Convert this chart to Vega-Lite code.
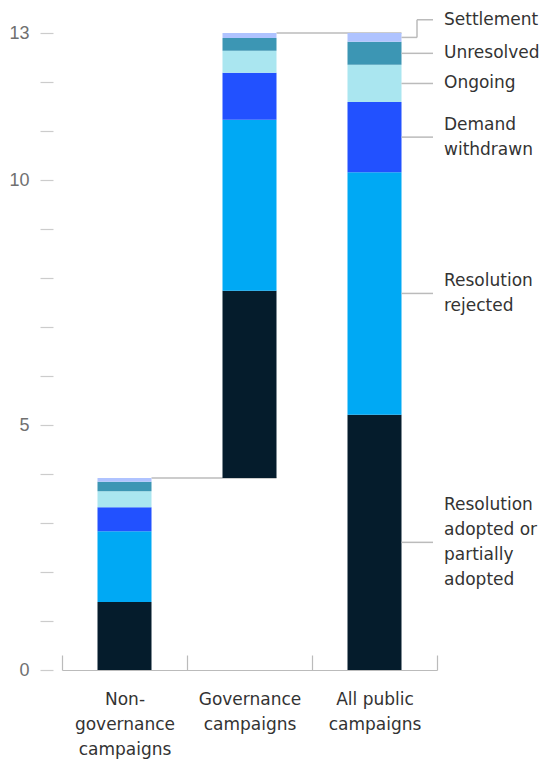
{
  "$schema": "https://vega.github.io/schema/vega-lite/v6.json",
  "autosize": "none",
  "width": 375,
  "height": 637,
  "padding": {"left": 62, "top": 33, "right": 109, "bottom": 91},
  "config": {"view": {"stroke": null}, "font": "DejaVu Sans"},
  "data": {"values": [
    {"campaign": "Non-governance campaigns", "outcome": "Resolution adopted or partially adopted", "value": 1.39},
    {"campaign": "Non-governance campaigns", "outcome": "Resolution rejected", "value": 1.44},
    {"campaign": "Non-governance campaigns", "outcome": "Demand withdrawn", "value": 0.49},
    {"campaign": "Non-governance campaigns", "outcome": "Ongoing", "value": 0.33},
    {"campaign": "Non-governance campaigns", "outcome": "Unresolved", "value": 0.19},
    {"campaign": "Non-governance campaigns", "outcome": "Settlement", "value": 0.08},
    {"campaign": "Governance campaigns", "outcome": "Resolution adopted or partially adopted", "value": 3.82},
    {"campaign": "Governance campaigns", "outcome": "Resolution rejected", "value": 3.49},
    {"campaign": "Governance campaigns", "outcome": "Demand withdrawn", "value": 0.96},
    {"campaign": "Governance campaigns", "outcome": "Ongoing", "value": 0.45},
    {"campaign": "Governance campaigns", "outcome": "Unresolved", "value": 0.26},
    {"campaign": "Governance campaigns", "outcome": "Settlement", "value": 0.10},
    {"campaign": "All public campaigns", "outcome": "Resolution adopted or partially adopted", "value": 5.21},
    {"campaign": "All public campaigns", "outcome": "Resolution rejected", "value": 4.95},
    {"campaign": "All public campaigns", "outcome": "Demand withdrawn", "value": 1.43},
    {"campaign": "All public campaigns", "outcome": "Ongoing", "value": 0.76},
    {"campaign": "All public campaigns", "outcome": "Unresolved", "value": 0.47},
    {"campaign": "All public campaigns", "outcome": "Settlement", "value": 0.18}
  ]},
  "transform": [
    {"stack": "value", "groupby": ["campaign"], "as": ["s0", "s1"]},
    {"calculate": "datum.campaign == 'Non-governance campaigns' ? datum.value : 0", "as": "ng"},
    {"joinaggregate": [{"op": "sum", "field": "ng", "as": "ngTotal"}]},
    {"calculate": "datum.campaign == 'Governance campaigns' ? datum.ngTotal : 0", "as": "base"},
    {"calculate": "datum.s0 + datum.base", "as": "y0"},
    {"calculate": "datum.s1 + datum.base", "as": "y1"}
  ],
  "encoding": {
    "x": {
      "field": "campaign", "type": "nominal",
      "sort": ["Non-governance campaigns", "Governance campaigns", "All public campaigns"],
      "scale": {"paddingInner": 0, "paddingOuter": 0},
      "axis": {
        "title": null, "labelAngle": 0, "domainColor": "#bbbbbb", "domainWidth": 1.2,
        "tickBand": "extent", "tickSize": -15, "tickColor": "#bbbbbb", "tickWidth": 1.2,
        "labelPadding": 44, "labelFontSize": 17, "labelColor": "#333333", "labelLineHeight": 25,
        "labelBaseline": "middle",
        "labelExpr": "datum.value == 'Non-governance campaigns' ? ['Non-', 'governance', 'campaigns'] : datum.value == 'Governance campaigns' ? ['Governance', 'campaigns'] : datum.value == 'All public campaigns' ? ['All public', 'campaigns'] : ''"
      }
    }
  },
  "layer": [
    {
      "transform": [
        {"aggregate": [{"op": "max", "field": "y1", "as": "top"}], "groupby": ["campaign"]},
        {"filter": "datum.campaign != 'All public campaigns'"},
        {"calculate": "datum.campaign == 'Non-governance campaigns' ? 'Governance campaigns' : 'All public campaigns'", "as": "next"}
      ],
      "mark": {"type": "rule", "color": "#bbbbbb", "strokeWidth": 1.5},
      "encoding": {
        "x": {"field": "campaign", "type": "nominal", "bandPosition": 0.716},
        "x2": {"field": "next", "bandPosition": 0.716},
        "y": {"field": "top", "type": "quantitative"}
      }
    },
    {
      "mark": {"type": "bar", "width": {"band": 0.432}},
      "encoding": {
        "y": {
          "field": "y0", "type": "quantitative",
          "scale": {"domain": [0, 13], "nice": false},
          "axis": {
            "title": null, "domain": false, "grid": false, "offset": 9, "tickSize": 13,
            "tickColor": "#cccccc", "tickWidth": 1.2, "labelPadding": 11,
            "labelFontSize": 18, "labelFont": "Liberation Sans", "labelColor": "#707070",
            "values": [0, 1, 2, 3, 4, 5, 6, 7, 8, 9, 10, 11, 12, 13],
            "labelExpr": "indexof([0, 5, 10, 13], datum.value) >= 0 ? datum.label : ''"
          }
        },
        "y2": {"field": "y1"},
        "color": {
          "field": "outcome", "type": "nominal", "legend": null,
          "scale": {
            "domain": ["Resolution adopted or partially adopted", "Resolution rejected", "Demand withdrawn", "Ongoing", "Unresolved", "Settlement"],
            "range": ["#051c2c", "#00a9f4", "#2251ff", "#aae6f0", "#3c96b4", "#afc3ff"]
          }
        }
      }
    },
    {
      "transform": [
        {"filter": "datum.campaign == 'All public campaigns'"},
        {"calculate": "(datum.y0 + datum.y1) / 2", "as": "mid"},
        {"calculate": "datum.outcome == 'Settlement' ? datum.mid + 0.36 : datum.mid", "as": "labelY"},
        {"calculate": "datum.outcome == 'Resolution adopted or partially adopted' ? 'Resolution|adopted or|partially|adopted' : datum.outcome == 'Resolution rejected' ? 'Resolution|rejected' : datum.outcome == 'Demand withdrawn' ? 'Demand|withdrawn' : datum.outcome", "as": "display"},
        {"calculate": "datum.labelY + (length(split(datum.display, '|')) - 1) * 0.255", "as": "textY"}
      ],
      "layer": [
        {
          "mark": {"type": "rule", "color": "#bbbbbb", "strokeWidth": 1.5},
          "encoding": {
            "x": {"field": "campaign", "type": "nominal", "bandPosition": 0.716},
            "x2": {"field": "campaign", "bandPosition": 0.84},
            "y": {"field": "mid", "type": "quantitative"}
          }
        },
        {
          "mark": {"type": "rule", "color": "#bbbbbb", "strokeWidth": 1.5},
          "encoding": {
            "x": {"field": "campaign", "type": "nominal", "bandPosition": 0.84},
            "y": {"field": "mid", "type": "quantitative"},
            "y2": {"field": "labelY"}
          }
        },
        {
          "mark": {"type": "rule", "color": "#bbbbbb", "strokeWidth": 1.5},
          "encoding": {
            "x": {"field": "campaign", "type": "nominal", "bandPosition": 0.84},
            "x2": {"field": "campaign", "bandPosition": 0.968},
            "y": {"field": "labelY", "type": "quantitative"}
          }
        },
        {
          "mark": {"type": "text", "align": "left", "baseline": "middle", "dx": 11, "fontSize": 17, "color": "#333333", "lineBreak": "|", "lineHeight": 25},
          "encoding": {
            "x": {"field": "campaign", "type": "nominal", "bandPosition": 0.968},
            "y": {"field": "textY", "type": "quantitative"},
            "text": {"field": "display"}
          }
        }
      ]
    }
  ]
}
